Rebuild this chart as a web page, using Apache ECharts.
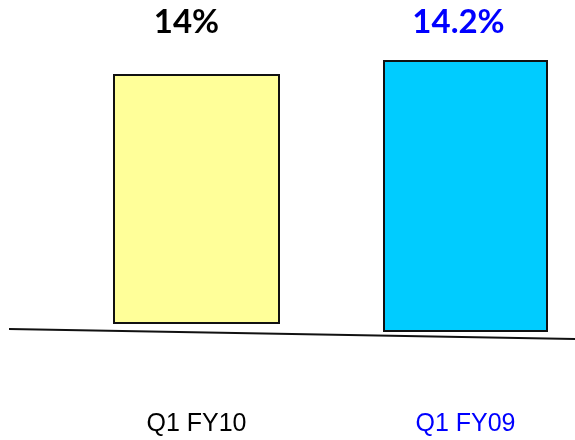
<!DOCTYPE html>
<html><head><meta charset="utf-8">
<script src="https://cdn.jsdelivr.net/npm/echarts@6/dist/echarts.min.js"></script>
<style>html,body{margin:0;padding:0;background:#fff}#c{width:575px;height:440px}</style>
</head><body><div id="c"></div>
<script>
var categories = ['Q1 FY10', 'Q1 FY09'];
var values = [14, 14.2];

var colors = ['#FFFF99', '#00CCFF'];
var textColors = ['#000000', '#0000FF'];
var grids = [
  {left: 113, width: 167, top: 74, bottom: 116},
  {left: 383, width: 165, top: 60, bottom: 108}
];
var labelDist = [35, 21];
var labelOff = [[-10, 0], [-7, 0]];
var catMargin = [88, 80];

var option = {
  animation: false,
  grid: grids,
  xAxis: categories.map(function (c, i) {
    return {
      type: 'category', gridIndex: i, data: [c],
      axisLine: {show: false}, axisTick: {show: false},
      axisLabel: {margin: catMargin[i], color: textColors[i], fontSize: 25, lineHeight: 25, fontFamily: 'Liberation Sans, Arial, sans-serif'}
    };
  }),
  yAxis: values.map(function (v, i) {
    return {type: 'value', gridIndex: i, min: 0, max: v, show: false, splitLine: {show: false}};
  }),
  series: values.map(function (v, i) {
    return {
      type: 'bar', xAxisIndex: i, yAxisIndex: i, barWidth: grids[i].width,
      data: [v],
      itemStyle: {color: colors[i], borderColor: '#111', borderWidth: 2},
      label: {
        show: true, position: 'top', distance: labelDist[i], offset: labelOff[i],
        formatter: '{c}%', color: textColors[i], fontSize: 33, fontWeight: 'bold',
        fontFamily: 'Lato, sans-serif'
      }
    };
  }),
  graphic: [{
    type: 'line', silent: true,
    shape: {x1: 9, y1: 329, x2: 575, y2: 339},
    style: {stroke: '#111', lineWidth: 1.8}
  }]
};
echarts.init(document.getElementById('c')).setOption(option);
</script></body></html>
